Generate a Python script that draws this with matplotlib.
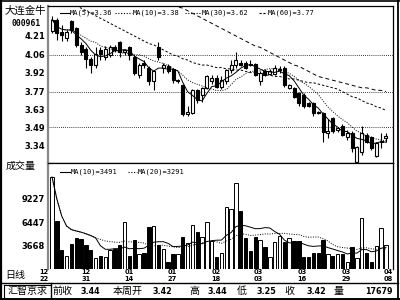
import numpy as np
import pandas as pd
import matplotlib
matplotlib.use('Agg')
import matplotlib.pyplot as plt
import matplotlib.transforms as mtransforms
from matplotlib.lines import Line2D

plt.rcParams['font.family'] = ['Noto Sans CJK SC', 'DejaVu Sans']

# daily candles, 12/22 .. 04/08
opens = [4.25, 4.34, 4.24, 4.19, 4.33, 4.27, 4.14, 4.11, 4.03, 3.98,
         4.10, 4.04, 4.06, 4.12, 4.16, 4.08, 4.12, 4.04, 3.90, 4.00,
         3.96, 3.85, 4.12, 3.96, 3.97, 3.95, 3.85, 3.82, 3.59, 3.60,
         3.78, 3.74, 3.80, 3.85, 3.88, 3.81, 3.85, 3.94, 3.98, 4.00,
         4.00, 3.99, 3.99, 3.85, 3.93, 3.91, 3.91, 3.94, 3.96, 3.80,
         3.80, 3.76, 3.74, 3.68, 3.68, 3.61, 3.60, 3.44, 3.56, 3.47,
         3.50, 3.41, 3.44, 3.21, 3.29, 3.43, 3.41, 3.26, 3.37, 3.40]
highs = [4.37, 4.35, 4.30, 4.26, 4.34, 4.28, 4.16, 4.12, 4.04, 4.12,
         4.12, 4.13, 4.14, 4.14, 4.17, 4.11, 4.13, 4.06, 4.00, 4.02,
         3.97, 3.94, 4.16, 4.00, 3.99, 3.96, 3.87, 3.83, 3.66, 3.79,
         3.79, 3.81, 3.90, 3.90, 3.90, 3.89, 3.95, 4.02, 4.08, 4.02,
         4.01, 4.02, 4.00, 3.93, 3.95, 3.95, 3.98, 3.97, 3.97, 3.83,
         3.81, 3.77, 3.76, 3.69, 3.69, 3.62, 3.61, 3.55, 3.57, 3.49,
         3.51, 3.47, 3.46, 3.34, 3.50, 3.44, 3.42, 3.37, 3.44, 3.44]
lows = [4.23, 4.18, 4.17, 4.17, 4.23, 4.12, 4.06, 3.96, 3.92, 3.96,
        4.02, 4.02, 4.04, 4.08, 4.04, 4.06, 4.02, 3.90, 3.88, 3.96,
        3.82, 3.78, 4.02, 3.92, 3.92, 3.84, 3.84, 3.58, 3.58, 3.59,
        3.68, 3.69, 3.79, 3.83, 3.80, 3.79, 3.83, 3.92, 3.96, 3.97,
        3.95, 3.97, 3.89, 3.82, 3.89, 3.90, 3.90, 3.92, 3.81, 3.79,
        3.72, 3.66, 3.64, 3.65, 3.58, 3.59, 3.37, 3.40, 3.44, 3.45,
        3.42, 3.39, 3.29, 3.21, 3.27, 3.36, 3.31, 3.25, 3.32, 3.37]
closes = [4.34, 4.23, 4.22, 4.24, 4.26, 4.14, 4.08, 4.03, 3.98, 4.07,
          4.07, 4.11, 4.12, 4.10, 4.08, 4.10, 4.06, 3.92, 3.98, 3.98,
          3.85, 3.93, 4.04, 3.98, 3.93, 3.86, 3.86, 3.59, 3.61, 3.78,
          3.70, 3.80, 3.89, 3.88, 3.81, 3.86, 3.94, 3.98, 4.02, 3.98,
          3.96, 3.98, 3.90, 3.92, 3.90, 3.93, 3.96, 3.95, 3.82, 3.82,
          3.73, 3.68, 3.66, 3.66, 3.60, 3.60, 3.45, 3.46, 3.46, 3.48,
          3.43, 3.44, 3.32, 3.33, 3.44, 3.37, 3.32, 3.36, 3.38, 3.42]
volumes = [11853, 6595, 3130, 2413, 3847, 4564, 4444, 3727, 3130, 2174,
           2413, 2293, 3130, 3249, 3727, 6476, 2413, 4325, 2652, 2771,
           5878, 5998, 3727, 3249, 1696, 2652, 2652, 4683, 3966, 6117,
           5281, 4683, 6476, 4205, 2293, 2771, 8268, 8028, 11136, 7789,
           4564, 3010, 4683, 4325, 3488, 2293, 4086, 4803, 4086, 4564,
           4205, 4205, 2293, 2293, 2771, 2771, 4325, 2652, 2413, 2652,
           2652, 1696, 3488, 2174, 6954, 2771, 1696, 3608, 5759, 3727]
# long averages (they start above the panel)
ma30 = [4.56, 4.54, 4.52, 4.49, 4.47, 4.45, 4.43, 4.41, 4.39, 4.37,
        4.35, 4.33, 4.31, 4.29, 4.27, 4.25, 4.23, 4.21, 4.19, 4.17,
        4.15, 4.14, 4.12, 4.10, 4.08, 4.06, 4.05, 4.03, 4.02, 4.00,
        3.99, 3.98, 3.98, 3.97, 3.96, 3.96, 3.95, 3.95, 3.94, 3.94,
        3.93, 3.92, 3.92, 3.91, 3.90, 3.90, 3.89, 3.89, 3.88, 3.87,
        3.87, 3.86, 3.85, 3.84, 3.84, 3.83, 3.82, 3.81, 3.80, 3.79,
        3.77, 3.75, 3.73, 3.72, 3.70, 3.68, 3.67, 3.65, 3.64, 3.62]
ma60 = [4.95, 4.93, 4.91, 4.89, 4.87, 4.85, 4.83, 4.81, 4.79, 4.77,
        4.75, 4.73, 4.71, 4.69, 4.67, 4.65, 4.63, 4.61, 4.59, 4.57,
        4.55, 4.53, 4.51, 4.49, 4.47, 4.46, 4.44, 4.43, 4.41, 4.39,
        4.37, 4.35, 4.33, 4.31, 4.29, 4.27, 4.25, 4.23, 4.21, 4.19,
        4.17, 4.15, 4.13, 4.12, 4.10, 4.08, 4.06, 4.04, 4.02, 4.00,
        3.98, 3.97, 3.95, 3.93, 3.91, 3.89, 3.88, 3.87, 3.86, 3.85,
        3.84, 3.83, 3.82, 3.81, 3.80, 3.80, 3.79, 3.78, 3.78, 3.77]

price_ticks = [4.21, 4.06, 3.92, 3.77, 3.63, 3.49, 3.34]
grid_levels = [4.06, 3.77, 3.49]
vol_ticks = [9227, 6447, 3668]
date_top = ['12', '12', '01', '01', '02', '03', '03', '03', '04']
date_bot = ['22', '31', '14', '27', '18', '03', '16', '29', '08']
date_idx = [-1.65, 7.0, 15.9, 24.8, 33.9, 42.6, 51.6, 60.7, 69.4]

ma_price_text = ['MA(5)=3.36', 'MA(10)=3.38', 'MA(30)=3.62', 'MA(60)=3.77']
ma_vol_text = ['MA(10)=3491', 'MA(20)=3291']
info_labels = ['前收', '本周开', '高', '低', '收', '量']
info_values = ['3.44', '3.42', '3.44', '3.25', '3.42', '17679']

W, H = 400, 300
def fx(px):
    return px / W
def fy(py):
    return 1 - py / H

fig = plt.figure(figsize=(4, 3), dpi=100)
fig.patch.set_facecolor('white')

ax_p = fig.add_axes([fx(48), fy(163), (393 - 48) / W, (163 - 6) / H])
ax_v = fig.add_axes([fx(48), fy(268.5), (393 - 48) / W, (268.5 - 163) / H])

x = np.arange(len(closes))
o = np.array(opens)
c = np.array(closes)
up = c >= o
dotted = (0, (1, 1.5))

# candles
ax_p.vlines(x, lows, highs, color='black', lw=0.8, zorder=3)
body_bot = np.minimum(o, c)
body_h = np.maximum(np.abs(c - o), 0.008)
ax_p.bar(x[up], body_h[up], bottom=body_bot[up], width=0.62,
         facecolor='white', edgecolor='black', lw=0.8, zorder=4)
ax_p.bar(x[~up], body_h[~up], bottom=body_bot[~up], width=0.62,
         facecolor='black', edgecolor='black', lw=0.8, zorder=4)

ma5 = pd.Series(closes).rolling(5, min_periods=1).mean()
ma10 = pd.Series(closes).rolling(10, min_periods=1).mean()
ax_p.plot(x, ma5, color='black', lw=0.7, zorder=5)
ax_p.plot(x, ma10, color='black', lw=0.7, ls=dotted, zorder=5)
ax_p.plot(x, ma30, color='black', lw=0.7, ls=(0, (2.5, 2)), zorder=5)
ax_p.plot(x, ma60, color='black', lw=0.7, ls=(0, (4, 3)), zorder=5)

for lv in grid_levels:
    ax_p.axhline(lv, color='black', lw=0.6, ls=dotted, zorder=1)

ax_p.set_xlim(-0.83, 70.45)
ax_p.set_ylim(3.2053, 4.447)
ax_p.set_xticks([])
ax_p.set_yticks(price_ticks)
ax_p.set_yticklabels([f'{t:.2f}' for t in price_ticks],
                     fontsize=6, fontweight='bold', family='DejaVu Sans')
ax_p.tick_params(axis='y', length=0, pad=2.2)

# volume
ax_v.bar(x[up], np.array(volumes)[up], width=0.7, facecolor='white',
         edgecolor='black', lw=0.7, zorder=3)
ax_v.bar(x[~up], np.array(volumes)[~up], width=0.7, facecolor='black',
         edgecolor='black', lw=0.7, zorder=3)
vma10 = pd.Series(volumes).rolling(10, min_periods=1).mean()
vma20 = pd.Series(volumes).rolling(20, min_periods=1).mean()
ax_v.plot(x, vma10, color='black', lw=0.7, zorder=4)
ax_v.plot(x, vma20, color='black', lw=0.7, ls=dotted, zorder=4)
ax_v.set_xlim(-0.83, 70.45)
ax_v.set_ylim(919, 13526)
ax_v.set_xticks([])
ax_v.set_yticks(vol_ticks)
ax_v.set_yticklabels([str(t) for t in vol_ticks], fontsize=6,
                     fontweight='bold', family='DejaVu Sans')
ax_v.tick_params(axis='y', length=0, pad=2.2)

for ax in (ax_p, ax_v):
    for s in ax.spines.values():
        s.set_linewidth(0.9)
        s.set_color('black')
    ax.spines['left'].set_color('#888888')
    ax.spines['left'].set_linewidth(1.6)
ax_v.spines['bottom'].set_visible(False)

# legends drawn as short sample lines + text
def legend_item(x0, x1, ypx, ls, label, tx):
    fig.add_artist(Line2D([fx(x0), fx(x1)], [fy(ypx), fy(ypx)], transform=fig.transFigure,
                          color='black', lw=0.8, ls=ls))
    fig.text(fx(tx), fy(ypx), label, fontsize=5.0, family='DejaVu Sans Mono',
             ha='left', va='center')

legend_item(60, 70, 13, '-', ma_price_text[0], 70)
legend_item(115, 132, 13, dotted, ma_price_text[1], 133)
legend_item(185, 200, 13, dotted, ma_price_text[2], 202)
legend_item(259, 267, 13, (0, (2, 1.5)), ma_price_text[3], 268)
legend_item(60, 70, 172, '-', ma_vol_text[0], 71)
legend_item(128, 137, 172, dotted, ma_vol_text[1], 138)

# left column labels
fig.text(fx(25), fy(11), '大连金牛', fontsize=7.5, ha='center', va='center')
fig.text(fx(26), fy(23), '000961', fontsize=5.8, fontweight='bold',
         family='DejaVu Sans Mono', ha='center', va='center')
fig.text(fx(21), fy(166), '成交量', fontsize=7.2, ha='center', va='center')
fig.text(fx(15), fy(275), '日线', fontsize=7.2, ha='center', va='center')

# date labels under the volume panel
trans = mtransforms.blended_transform_factory(ax_v.transData, fig.transFigure)
for pos, a, b in zip(date_idx, date_top, date_bot):
    ax_v.text(pos, fy(272.5), a, transform=trans, fontsize=4.8, fontweight='bold',
              ha='center', va='center', clip_on=False, family='DejaVu Sans')
    ax_v.text(pos, fy(279), b, transform=trans, fontsize=4.8, fontweight='bold',
              ha='center', va='center', clip_on=False, family='DejaVu Sans')

# bottom info bar
fig.text(fx(27.5), fy(291), '汇智京求', fontsize=7.2, ha='center', va='center')
label_x = [62.5, 128, 194, 242, 289, 339]
value_x = [100, 172, 227, 276, 326, 393]
for lab, lx, val, vx in zip(info_labels, label_x, info_values, value_x):
    fig.text(fx(lx), fy(291), lab, fontsize=7.2, ha='center', va='center')
    fig.text(fx(vx), fy(291), val, fontsize=5.8, fontweight='bold',
             family='DejaVu Sans', ha='right', va='center')

# frame lines
frame = [
    ([0.8, 0.8], [0, 300], 1.6),
    ([0, 400], [0.6, 0.6], 1.2),
    ([0, 400], [298.8, 298.8], 1.4),
    ([397.5, 397.5], [0, 300], 1.3),
    ([0, 397.5], [283, 283], 1.0),
    ([51, 51], [283, 298.8], 1.0),
    ([4, 51], [284.5, 284.5], 0.8),
    ([4, 4], [284.5, 298.8], 0.8),
]
for xs, ys, lw in frame:
    fig.add_artist(Line2D([fx(v) for v in xs], [fy(v) for v in ys],
                          transform=fig.transFigure, color='black', lw=lw))

fig.savefig('out.png', dpi=100)
